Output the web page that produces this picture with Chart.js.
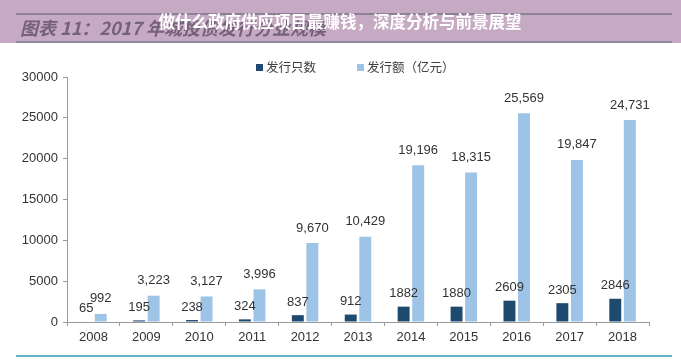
<!DOCTYPE html>
<html>
<head>
<meta charset="utf-8">
<script src="https://cdn.jsdelivr.net/npm/chart.js@4/dist/chart.umd.min.js"></script>
<style>
  body { margin: 0; background: #fff; }
  canvas { display: block; }
</style>
</head>
<body>
<canvas id="chart" width="681" height="363"></canvas>
<script>
// 数据
const years = ['2008', '2009', '2010', '2011', '2012', '2013', '2014', '2015', '2016', '2017', '2018'];
const issueCount = [65, 195, 238, 324, 837, 912, 1882, 1880, 2609, 2305, 2846];
const issueAmount = [992, 3223, 3127, 3996, 9670, 10429, 19196, 18315, 25569, 19847, 24731];
const yTicks = [0, 5000, 10000, 15000, 20000, 25000, 30000];
const seriesNames = ['发行只数', '发行额（亿元）'];
const pageTitle = '做什么政府供应项目最赚钱，深度分析与前景展望';
const figTitle = '图表 11：2017 年城投债发行分业规模';

const darkBlue = '#1f4a70';
const lightBlue = '#9dc3e6';
const latin = '"Liberation Sans", Arial, sans-serif';
const cjk = '"Noto Sans CJK SC", "Liberation Sans", sans-serif';

Chart.defaults.font.family = latin;

/* 背景、页眉、图例、数值标签 */
const decor = {
    id: 'decor',
    beforeDraw(chart) {
        const c = chart.ctx;
        c.save();
        c.fillStyle = '#ffffff';
        c.fillRect(0, 0, chart.width, chart.height);
        // 页眉色带
        c.fillStyle = '#c6a9c2';
        c.fillRect(0, 0, chart.width, 43);
        c.fillStyle = '#8f8099';
        c.fillRect(16, 13, 656, 2);
        c.fillStyle = '#8d8a9f';
        c.fillRect(16, 41, 656, 2);
        c.font = 'italic bold 18px ' + cjk;
        c.fillStyle = '#75617a';
        c.textBaseline = 'middle';
        c.fillText(figTitle, 20, 28);
        // 底部线
        c.fillStyle = '#63b4c8';
        c.fillRect(16, 355, 656, 2);
        c.restore();
    },
    afterDraw(chart) {
        const c = chart.ctx;
        c.save();
        // 标题
        c.font = 'bold 16.5px ' + cjk;
        c.fillStyle = '#ffffff';
        c.textAlign = 'center';
        c.textBaseline = 'middle';
        c.fillText(pageTitle, 340, 22);

        // 图例
        const legendX = [256, 357];
        const legendColors = [darkBlue, lightBlue];
        c.font = '12.5px ' + cjk;
        c.textAlign = 'left';
        seriesNames.forEach((name, i) => {
            c.fillStyle = legendColors[i];
            c.fillRect(legendX[i], 64, 7, 7);
            c.fillStyle = '#404040';
            c.fillText(name, legendX[i] + 10, 67.5);
        });

        // 数值标签
        c.font = '13px ' + latin;
        c.fillStyle = '#333333';
        c.textAlign = 'center';
        chart.data.datasets.forEach((ds, i) => {
            const meta = chart.getDatasetMeta(i);
            meta.data.forEach((bar, j) => {
                const v = ds.data[j];
                const txt = i === 0 ? String(v) : v.toLocaleString('en-US');
                const off = i === 0 ? 13 : 15;
                c.fillText(txt, bar.x, bar.y - off);
            });
        });
        c.restore();
    }
};

new Chart(document.querySelector('#chart').getContext('2d'), {
    type: 'bar',
    data: {
        labels: years,
        datasets: [
            {
                label: seriesNames[0],
                data: issueCount,
                backgroundColor: darkBlue,
                categoryPercentage: 0.55,
                barPercentage: 0.82
            },
            {
                label: seriesNames[1],
                data: issueAmount,
                backgroundColor: lightBlue,
                categoryPercentage: 0.55,
                barPercentage: 0.82
            }
        ]
    },
    options: {
        responsive: false,
        animation: false,
        layout: { padding: { top: 77, right: 32, bottom: 11, left: 0 } },
        plugins: {
            legend: { display: false },
            tooltip: { enabled: false }
        },
        scales: {
            x: {
                grid: { display: true, drawOnChartArea: false, drawTicks: true, tickLength: 4, color: '#9a9a9a', offset: true },
                border: { color: '#9a9a9a' },
                ticks: { color: '#333', font: { size: 13 }, padding: 4, maxRotation: 0 },
                afterFit(scale) { scale.height = 30; }
            },
            y: {
                min: 0,
                max: 30000,
                afterBuildTicks(scale) { scale.ticks = yTicks.map(v => ({ value: v })); },
                grid: { display: true, drawOnChartArea: false, drawTicks: true, tickLength: 4, color: '#9a9a9a' },
                border: { color: '#9a9a9a' },
                ticks: { color: '#333', font: { size: 13 }, padding: 5, callback: v => String(v) },
                afterFit(scale) { scale.width = 67; }
            }
        }
    },
    plugins: [decor]
});
</script>
</body>
</html>
